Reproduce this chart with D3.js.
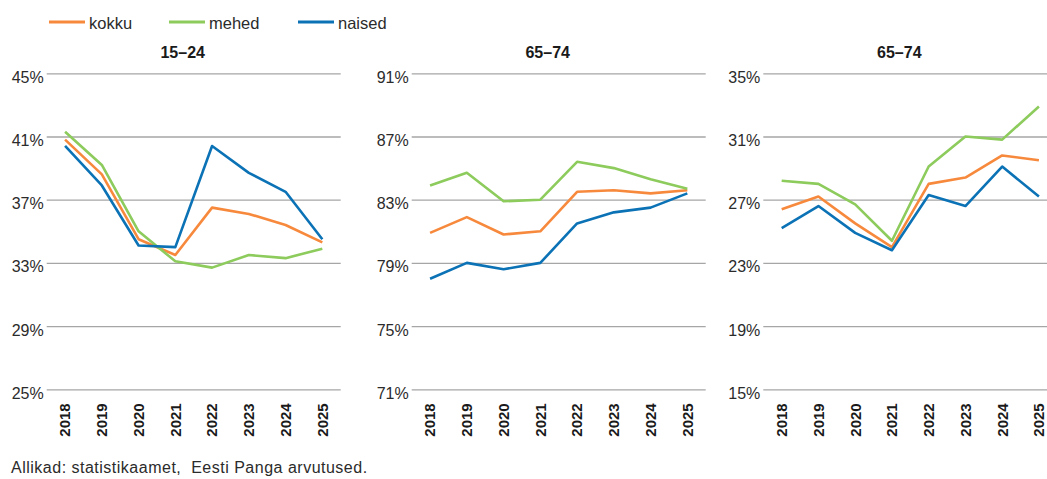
<!DOCTYPE html>
<html>
<head>
<meta charset="utf-8">
<script src="https://cdn.jsdelivr.net/npm/d3@7"></script>
<style>
  body { margin: 0; background: #fff; }
  svg { display: block; font-family: "Liberation Sans", Arial, sans-serif; }
  .grid line { stroke: #a6a6a6; stroke-width: 1.3; }
  .grid path { display: none; }
  .ylab text { font-size: 16px; fill: #2b2b2b; font-family: "Liberation Sans", Arial, sans-serif; }
  .xlab text { font-size: 15px; font-weight: bold; fill: #1a1a1a; font-family: "Liberation Sans", Arial, sans-serif; }
</style>
</head>
<body>
<div id="chart"></div>
<script>
// aastad
var years = ["2018", "2019", "2020", "2021", "2022", "2023", "2024", "2025"];
var panelTitles = ["15–24", "65–74", "65–74"];
var yDomains = [[25, 45], [71, 91], [15, 35]];
var yTicks = [[25, 29, 33, 37, 41, 45], [71, 75, 79, 83, 87, 91], [15, 19, 23, 27, 31, 35]];

// andmed paneelide kaupa (%)
var kokku = [
  [40.8, 38.6, 34.5, 33.5, 36.5, 36.1, 35.4, 34.3],
  [80.9, 81.9, 80.8, 81.0, 83.5, 83.6, 83.4, 83.6],
  [26.4, 27.2, 25.5, 24.0, 28.0, 28.4, 29.8, 29.5]
];
var mehed = [
  [41.3, 39.2, 35.0, 33.1, 32.7, 33.5, 33.3, 33.9],
  [83.9, 84.7, 82.9, 83.0, 85.4, 85.0, 84.3, 83.7],
  [28.2, 28.0, 26.7, 24.4, 29.1, 31.0, 30.8, 32.9]
];
var naised = [
  [40.4, 37.9, 34.1, 34.0, 40.4, 38.7, 37.5, 34.5],
  [78.0, 79.0, 78.6, 79.0, 81.5, 82.2, 82.5, 83.4],
  [25.2, 26.6, 24.9, 23.8, 27.3, 26.6, 29.1, 27.2]
];

var seriesNames = ["kokku", "mehed", "naised"];
var seriesData = [kokku, mehed, naised];
var colors = ["#f7893d", "#8ccb5c", "#0b72b6"];

var width = 1047, height = 479;
var panelLeft = [46.7, 411.7, 763.3];
var plotW = 294, plotTop = 73.3, plotBottom = 389.3;

var svg = d3.select("#chart").append("svg")
  .attr("width", width)
  .attr("height", height);

// legend
var legendX = [49, 169, 298];
seriesNames.forEach(function (name, i) {
  var g = svg.append("g").attr("transform", "translate(" + legendX[i] + ",22)");
  g.append("line").attr("x1", 0).attr("x2", 36).attr("y1", 0).attr("y2", 0)
    .attr("stroke", colors[i]).attr("stroke-width", 3);
  g.append("text").attr("x", 40).attr("y", 7)
    .style("font-size", "16.5px").style("fill", "#2b2b2b").text(name);
});

panelTitles.forEach(function (title, p) {
  var x = d3.scaleBand().domain(years).range([panelLeft[p], panelLeft[p] + plotW]);
  var y = d3.scaleLinear().domain(yDomains[p]).range([plotBottom, plotTop]);

  // grid
  svg.append("g").attr("class", "grid")
    .attr("transform", "translate(" + panelLeft[p] + ",0)")
    .call(d3.axisLeft(y).tickValues(yTicks[p]).tickSize(-plotW).tickFormat(""));

  // y labels
  var yl = svg.append("g").attr("class", "ylab")
    .attr("transform", "translate(" + (panelLeft[p] - 3) + ",0)")
    .call(d3.axisLeft(y).tickValues(yTicks[p]).tickSize(0).tickPadding(0)
      .tickFormat(function (d) { return d + "%"; }));
  yl.select(".domain").remove();
  yl.attr("font-size", null).attr("font-family", null);
  yl.selectAll("text").attr("dy", null).attr("y", 9);

  // x labels
  var xl = svg.append("g").attr("class", "xlab")
    .attr("transform", "translate(0," + (plotBottom + 14) + ")")
    .call(d3.axisBottom(x).tickSize(0).tickPadding(0));
  xl.select(".domain").remove();
  xl.attr("font-size", null).attr("font-family", null);
  xl.selectAll("text")
    .attr("transform", "rotate(-90)")
    .attr("text-anchor", "end")
    .attr("x", 0).attr("y", 0).attr("dy", "0.36em");

  // title
  svg.append("text")
    .attr("x", panelLeft[p] + plotW / 2 - 11)
    .attr("y", 58)
    .attr("text-anchor", "middle")
    .style("font-size", "16px").style("font-weight", "bold").style("fill", "#1a1a1a")
    .text(title);

  var line = d3.line()
    .x(function (d, i) { return x(years[i]) + x.bandwidth() / 2; })
    .y(function (d) { return y(d); });

  seriesData.forEach(function (s, i) {
    svg.append("path")
      .attr("d", line(s[p]))
      .attr("fill", "none")
      .attr("stroke", colors[i])
      .attr("stroke-width", 2.6)
      .attr("stroke-linejoin", "round");
  });
});

// allikad
svg.append("text")
  .attr("x", 11).attr("y", 473)
  .style("font-size", "16px").style("fill", "#2b2b2b")
  .style("letter-spacing", "0.5px")
  .attr("xml:space", "preserve")
  .text("Allikad: statistikaamet,  Eesti Panga arvutused.");
</script>
</body>
</html>
